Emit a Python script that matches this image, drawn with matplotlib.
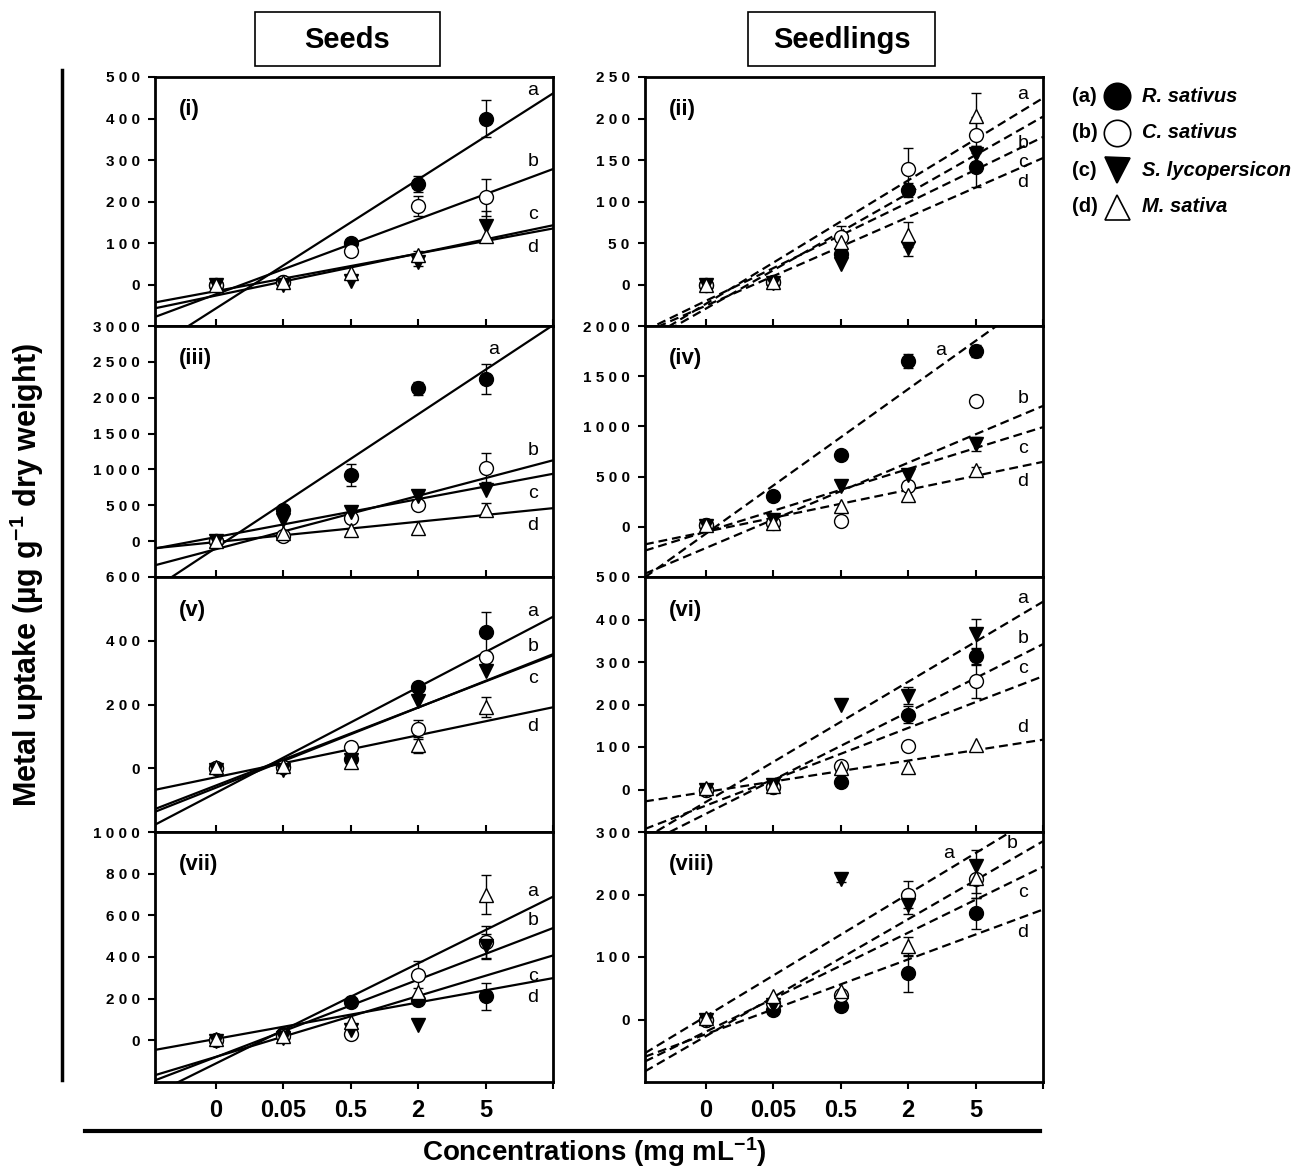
import matplotlib.pyplot as plt
import matplotlib.patches as patches
from matplotlib.lines import Line2D
import numpy as np

plt.rcParams['font.family'] = ['Liberation Sans', 'DejaVu Sans']
plt.rcParams['mathtext.fontset'] = 'custom'
plt.rcParams['mathtext.rm'] = 'Liberation Sans:bold'
plt.rcParams['mathtext.default'] = 'rm'

# x categories (mg/mL) and species
concentrations = ['0', '0.05', '0.5', '2', '5']
species = ['R. sativus', 'C. sativus', 'S. lycopersicon', 'M. sativa']
panel_names = ['(i)', '(ii)', '(iii)', '(iv)', '(v)', '(vi)', '(vii)', '(viii)']

# one row per panel (i)..(viii), values at 0, 0.05, 0.5, 2, 5
r_sativus = [[0, 5, 100, 242, 400],
             [0, 3, 37, 114, 142],
             [0, 430, 920, 2130, 2257],
             [20, 310, 720, 1653, 1750],
             [0, 5, 30, 255, 428],
             [0, 5, 17, 176, 314],
             [0, 30, 184, 192, 211],
             [0, 15, 22, 74, 170]]
c_sativus = [[0, 5, 81, 189, 210],
             [0, 3, 57, 139, 180],
             [0, 65, 327, 500, 1023],
             [20, 37, 60, 403, 1253],
             [0, 5, 68, 122, 350],
             [0, 5, 56, 102, 256],
             [0, 20, 29, 315, 472],
             [0, 26, 39, 200, 225]]
s_lyco = [[0, 0, 8, 55, 142],
          [0, 2, 25, 44, 157],
          [0, 300, 400, 626, 720],
          [10, 70, 410, 520, 827],
          [-5, -5, 25, 211, 306],
          [0, 10, 198, 221, 366],
          [-5, 10, 48, 72, 451],
          [0, 23, 225, 184, 246]]
m_sativa = [[0, 5, 28, 71, 118],
            [0, 3, 51, 60, 203],
            [0, 112, 150, 178, 440],
            [15, 37, 203, 320, 570],
            [5, 8, 20, 73, 192],
            [3, 8, 50, 52, 104],
            [5, 20, 88, 232, 700],
            [3, 37, 46, 117, 227]]

# standard errors (0 = not shown)
r_sativus_err = [[0, 0, 0, 20, 45], [0, 0, 0, 8, 25], [0, 0, 150, 90, 210], [0, 0, 0, 70, 60],
                 [0, 0, 0, 0, 62], [0, 0, 0, 20, 20], [0, 0, 0, 0, 65], [0, 0, 0, 30, 25]]
c_sativus_err = [[0, 0, 0, 25, 45], [0, 0, 13, 25, 22], [0, 0, 0, 0, 200], [0, 0, 0, 0, 0],
                 [0, 0, 0, 30, 12], [0, 0, 0, 0, 40], [0, 0, 0, 65, 75], [0, 0, 0, 22, 30]]
s_lyco_err = [[0, 0, 0, 10, 35], [0, 0, 0, 10, 10], [0, 0, 0, 90, 0], [0, 0, 0, 0, 70],
              [0, 0, 0, 0, 0], [0, 0, 0, 20, 35], [0, 0, 0, 0, 60], [0, 0, 5, 15, 25]]
m_sativa_err = [[0, 0, 0, 10, 0], [0, 0, 0, 15, 28], [0, 0, 0, 0, 90], [0, 0, 0, 0, 30],
                [0, 0, 0, 25, 30], [0, 0, 0, 0, 0], [0, 0, 0, 0, 95], [0, 0, 0, 15, 25]]

# y range (bottom, top, step) per panel
y_ranges = [(-100, 500, 100), (-50, 250, 50), (-500, 3000, 500), (-500, 2000, 500),
            (-200, 600, 200), (-100, 500, 100), (-200, 1000, 200), (-100, 300, 100)]
# which side of its line each label a-d sits on (+ above, - below)
label_sides = ['+++-', '+---', '++--', '++--', '++--', '++++', '++--', '++--']

all_vals = [r_sativus, c_sativus, s_lyco, m_sativa]
all_errs = [r_sativus_err, c_sativus_err, s_lyco_err, m_sativa_err]
mstyles = [('o', 'black'), ('o', 'white'), ('v', 'black'), ('^', 'white')]

W, H = 1301, 1169
fig = plt.figure(figsize=(W / 100, H / 100), dpi=100)

col_x = [155, 645]
col_w = 398
row_edges = [77, 326, 577, 832, 1082]

x = np.arange(5)
for p in range(8):
    row, col = p // 2, p % 2
    top_px, bot_px = row_edges[row], row_edges[row + 1]
    ax = fig.add_axes([col_x[col] / W, 1 - bot_px / H, col_w / W, (bot_px - top_px) / H])
    ybot, ytop, ystep = y_ranges[p]
    ls = '-' if col == 0 else (0, (4, 2.2))

    fits = []
    for k in range(4):
        y = np.array(all_vals[k][p], dtype=float)
        e = np.array(all_errs[k][p], dtype=float)
        m, b = np.polyfit(x, y, 1)
        fits.append((m, b))
        xs = np.array([-0.9, 5.0])
        ax.plot(xs, m * xs + b, color='black', lw=1.6, ls=ls, zorder=2)
        sel = e > 0
        if sel.any():
            ax.errorbar(x[sel], y[sel], yerr=e[sel], fmt='none', ecolor='black',
                        elinewidth=1, capsize=3.5, capthick=1, zorder=3)
        mk, fc = mstyles[k]
        ax.plot(x, y, ls='none', marker=mk, ms=10, mfc=fc, mec='black', mew=1, zorder=4 + k)

    # line labels a-d, top to bottom at the right edge
    order = sorted(range(4), key=lambda k: -(fits[k][0] * 5 + fits[k][1]))
    yr = ytop - ybot
    for rank, k in enumerate(order):
        m, b = fits[k]
        xl = 4.7
        lim = ytop - 0.1 * yr
        if m * xl + b > lim:
            xl = (lim - b) / m - (0.3 if rank == 0 else 0.05)
        yl = m * xl + b
        if label_sides[p][rank] == '+':
            ax.annotate('abcd'[rank], (xl, yl), xytext=(0, 5), textcoords='offset points',
                        ha='center', va='bottom', fontsize=14)
        else:
            ax.annotate('abcd'[rank], (xl, yl), xytext=(0, -5), textcoords='offset points',
                        ha='center', va='top', fontsize=14)

    ax.text(0.06, 0.87, panel_names[p], transform=ax.transAxes, fontsize=16,
            fontweight='bold', va='center', ha='left')

    ax.set_xlim(-0.9, 5.0)
    ax.set_ylim(ybot, ytop)
    yt = np.arange(0, ytop + 1, ystep)
    ax.set_yticks(yt)
    ax.set_yticklabels([' '.join(str(int(v))) for v in yt], fontsize=11, fontweight='bold')
    ax.set_xticks(range(6))
    if row == 3:
        ax.set_xticklabels(concentrations + [''], fontsize=17, fontweight='bold')
        ax.tick_params(axis='x', direction='out', length=5, width=1.5, pad=7)
    else:
        ax.set_xticklabels([])
        ax.tick_params(axis='x', direction='in', length=5, width=1.5)
    ax.tick_params(axis='y', direction='out', length=5, width=1.5, pad=6)
    for s in ax.spines.values():
        s.set_linewidth(2)

# column headers
for x0, wbox, title in [(255, 185, 'Seeds'), (748, 187, 'Seedlings')]:
    fig.add_artist(patches.Rectangle((x0 / W, 1 - 66 / H), wbox / W, 54 / H,
                                     transform=fig.transFigure, fill=False, lw=1.2, ec='black'))
    fig.text((x0 + wbox / 2) / W, 1 - 40 / H, title, ha='center', va='center',
             fontsize=21, fontweight='bold')

# axis titles and frame lines
fig.text(27 / W, 1 - 575 / H, 'Metal uptake (µg g$^{-1}$ dry weight)', rotation=90,
         ha='center', va='center', fontsize=22, fontweight='bold')
fig.text(594 / W, 1 - 1152 / H, 'Concentrations (mg mL$^{-1}$)', ha='center', va='center',
         fontsize=20, fontweight='bold')
fig.add_artist(Line2D([62 / W, 62 / W], [1 - 70 / H, 1 - 1080 / H], color='black', lw=2.5,
                      transform=fig.transFigure))
fig.add_artist(Line2D([85 / W, 1040 / W], [1 - 1131 / H, 1 - 1131 / H], color='black', lw=3,
                      transform=fig.transFigure))

# legend
leg_y = [96, 133, 170, 207]
for k in range(4):
    yy = 1 - leg_y[k] / H
    mk, fc = mstyles[k]
    fig.text(1072 / W, yy, '(' + 'abcd'[k] + ')', ha='left', va='center', fontsize=14.5,
             fontweight='bold')
    fig.add_artist(Line2D([1117 / W], [yy], marker=mk, ms=19 if mk == 'o' else 18, mfc=fc,
                          mec='black', mew=1.2, ls='none', transform=fig.transFigure))
    fig.text(1142 / W, yy, species[k], ha='left', va='center', fontsize=14.5,
             fontweight='bold', fontstyle='italic')

fig.savefig('out.png', dpi=100)
